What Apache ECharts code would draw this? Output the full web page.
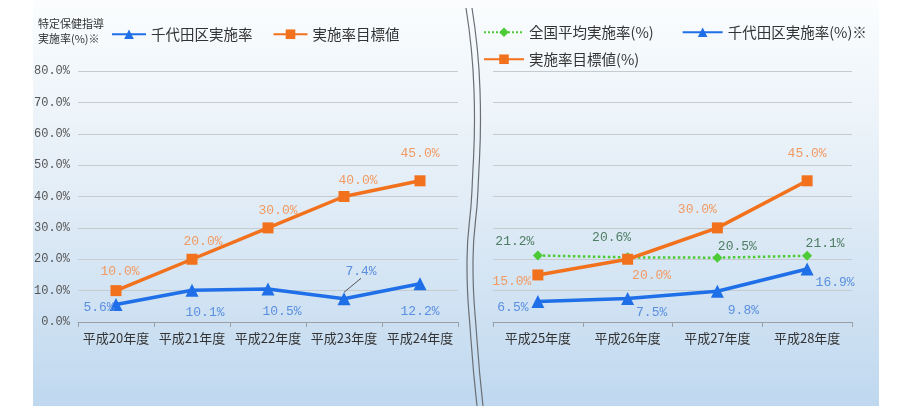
<!DOCTYPE html>
<html>
<head>
<meta charset="utf-8">
<script src="https://cdn.jsdelivr.net/npm/echarts@6/dist/echarts.min.js"></script>
<style>
  html, body { margin: 0; padding: 0; background: #fff; }
  #chart { width: 900px; height: 406px; }
</style>
</head>
<body>
<div id="chart"></div>
<script>
// 平成20〜24年度
const leftYears = ['平成20年度', '平成21年度', '平成22年度', '平成23年度', '平成24年度']
const leftChiyoda = [5.6, 10.1, 10.5, 7.4, 12.2]
const leftTarget = [10.0, 20.0, 30.0, 40.0, 45.0]

// 平成25〜28年度
const rightYears = ['平成25年度', '平成26年度', '平成27年度', '平成28年度']
const rightNational = [21.2, 20.6, 20.5, 21.1]
const rightChiyoda = [6.5, 7.5, 9.8, 16.9]
const rightTarget = [15.0, 20.0, 30.0, 45.0]

const yMin = 0
const yMax = 80
const yStep = 10

// label placement (offset from the point centre)
const leftChiyodaOff = [[-17, 3], [13, 22], [14, 23], [17, -27], [0, 28]]
const leftTargetOff = [[4, -19], [11, -18], [10, -17], [14, -16], [0, -27]]
const rightNationalOff = [[-23, -14], [-16, -20], [20, -11], [18, -12]]
const rightTargetOff = [[-26, 7], [24, 16], [-20, -18], [0, -27]]
const rightChiyodaOff = [[-25, 6], [24, 14], [26, 19], [28, 14]]

const BLUE = '#1f6fe8'
const ORANGE = '#f2711d'
const GREEN = '#4ccb36'
const JP = '"Noto Sans CJK JP", sans-serif'
const MONO = '"Liberation Mono", monospace'

const withLabels = (values, offs) =>
  values.map((v, i) => ({ value: v, label: { offset: offs[i] } }))

const chart = echarts.init(document.getElementById('chart'))

const xAxisBase = {
  type: 'category',
  boundaryGap: true,
  axisLine: { lineStyle: { color: '#9aa0a6', width: 1 } },
  axisTick: { show: true, length: 5, lineStyle: { color: '#9aa0a6' } },
  axisLabel: { color: '#333', fontSize: 13, fontFamily: JP, margin: 10, interval: 0, hideOverlap: false },
}
const yAxisBase = {
  type: 'value',
  min: yMin,
  max: yMax,
  interval: yStep,
  axisLine: { show: false },
  axisTick: { show: false },
  splitLine: { lineStyle: { color: '#c6cbd0', width: 1 } },
}

const lineSeries = (name, xi, data, color, symbol, size, labelColor, dotted) => ({
  name,
  type: 'line',
  xAxisIndex: xi,
  yAxisIndex: xi,
  data,
  symbol,
  symbolSize: size,
  z: dotted ? 2 : 3,
  lineStyle: { color, width: dotted ? 2.5 : 3.5, type: dotted ? 'dotted' : 'solid' },
  itemStyle: { color },
  label: {
    show: true,
    position: 'inside',
    formatter: (p) => p.value.toFixed(1) + '%',
    color: labelColor,
    fontSize: 13,
    fontFamily: MONO,
  },
})

const leftChiyodaData = withLabels(leftChiyoda, leftChiyodaOff)
leftChiyodaData[3].labelLine = { show: true, lineStyle: { color: '#555', width: 1 } }

chart.setOption({
  animation: false,
  graphic: [
    {
      type: 'rect',
      z: -10,
      silent: true,
      shape: { x: 33, y: 0, width: 846, height: 406 },
      style: {
        fill: new echarts.graphic.LinearGradient(0, 0, 0, 1, [
          { offset: 0, color: '#fbfdfe' },
          { offset: 0.45, color: '#e4eef7' },
          { offset: 1, color: '#bfd8ef' },
        ]),
      },
    },
    {
      type: 'polyline',
      silent: true,
      z: 5,
      shape: { points: [[466, 8], [474, 90], [472, 190], [467, 260], [471, 340], [477, 406]], smooth: 0.5 },
      style: { stroke: '#6a6f75', lineWidth: 1.2, fill: null },
    },
    {
      type: 'polyline',
      silent: true,
      z: 5,
      shape: { points: [[472, 8], [480, 90], [478, 190], [473, 260], [477, 340], [483, 406]], smooth: 0.5 },
      style: { stroke: '#6a6f75', lineWidth: 1.2, fill: null },
    },
  ],
  title: {
    text: '特定保健指導\n実施率(%)※',
    left: 33,
    top: 11,
    textStyle: { fontSize: 11, fontWeight: 'normal', color: '#333', fontFamily: JP, lineHeight: 15 },
  },
  legend: [
    {
      data: ['千代田区実施率', '実施率目標値'],
      left: 106,
      top: 22,
      itemWidth: 34,
      itemHeight: 12,
      itemGap: 20,
      textStyle: { fontSize: 14.5, color: '#333', fontFamily: JP },
    },
    {
      data: ['全国平均実施率(%)', '千代田区実施率(%)※'],
      left: 478,
      top: 20,
      itemWidth: 40,
      itemHeight: 12,
      itemGap: 28,
      textStyle: { fontSize: 14.5, color: '#333', fontFamily: JP },
    },
    {
      data: ['実施率目標値(%)'],
      left: 478,
      top: 47,
      itemWidth: 40,
      itemHeight: 12,
      textStyle: { fontSize: 14.5, color: '#333', fontFamily: JP },
    },
  ],
  grid: [
    { left: 78, right: 442, top: 71, bottom: 84 },
    { left: 493, right: 48, top: 71, bottom: 84 },
  ],
  xAxis: [
    { ...xAxisBase, gridIndex: 0, data: leftYears },
    { ...xAxisBase, gridIndex: 1, data: rightYears },
  ],
  yAxis: [
    {
      ...yAxisBase,
      gridIndex: 0,
      axisLabel: { color: '#555', fontSize: 12, fontFamily: MONO, margin: 8, formatter: (v) => v.toFixed(1) + '%' },
    },
    { ...yAxisBase, gridIndex: 1, axisLabel: { show: false } },
  ],
  series: [
    lineSeries('千代田区実施率', 0, leftChiyodaData, BLUE, 'triangle', 13, '#5a8fe0'),
    lineSeries('実施率目標値', 0, withLabels(leftTarget, leftTargetOff), ORANGE, 'rect', 11, '#f19a63'),
    lineSeries('全国平均実施率(%)', 1, withLabels(rightNational, rightNationalOff), GREEN, 'diamond', 10, '#4e7d62', true),
    lineSeries('千代田区実施率(%)※', 1, withLabels(rightChiyoda, rightChiyodaOff), BLUE, 'triangle', 13, '#5a8fe0'),
    lineSeries('実施率目標値(%)', 1, withLabels(rightTarget, rightTargetOff), ORANGE, 'rect', 11, '#f19a63'),
  ],
})

window.addEventListener('resize', () => chart.resize())
</script>
</body>
</html>
